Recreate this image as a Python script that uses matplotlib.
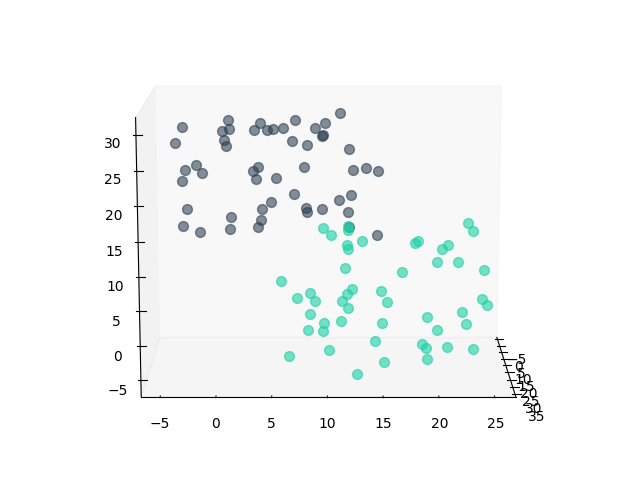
import matplotlib
matplotlib.use("Agg")
import matplotlib.pyplot as plt

# x and z, y (depth) is only a rough guess
dark_x = [11.2,7.0,0.7,9.8,3.7,8.8,3.2,4.3,4.9,5.8,0.2,0.9,-3.8,-4.0,0.3,0.4,6.7,8.1,9.6,9.5,12.0,-2.3,-3.4,-1.9,-3.5,3.0,3.5,3.2,5.2,7.8,12.4,13.6,14.8,6.9,11.1,12.2,-3.3,-3.6,-2.1,1.0,0.7,3.9,4.7,3.7,3.5,8.0,8.1,9.5,11.9,12.0,14.6]
dark_y = [6,14,10,18,8,12,16,9,13,7,11,15,5,17,10,8,14,12,6,16,9,13,11,7,15,10,12,8,14,6,16,11,9,13,7,15,10,12,8,14,6,16,11,9,13,7,15,10,12,8,14]
dark_z = [29.6,29.5,29.0,29.5,28.3,28.1,28.2,27.4,28.0,27.5,27.5,28.3,27.4,26.5,26.0,24.9,26.4,25.5,26.3,27.4,24.6,22.7,21.7,20.7,20.6,21.4,22.3,19.9,20.9,21.5,22.3,22.0,21.3,18.4,16.6,18.5,15.7,13.4,11.8,15.1,12.0,16.6,16.9,13.8,13.4,15.4,16.0,15.7,15.5,12.6,12.3]

green_x = [9.6,10.3,11.9,11.9,13.2,11.8,11.9,17.9,18.3,20.7,20.9,20.2,21.9,22.9,23.1,24.6,16.8,11.6,5.8,7.2,8.4,8.9,12.3,11.8,11.3,11.9,14.9,15.5,8.4,8.2,9.7,9.6,11.2,15.1,19.3,20.0,22.6,22.8,24.0,24.9,14.4,18.8,19.0,21.3,23.4,6.4,10.1,15.3,19.3,12.7]
green_y = [24,18,28,21,16,26,20,30,23,17,27,19,25,22,29,16,24,18,28,21,20,26,17,23,30,19,25,22,27,16,24,18,28,21,20,26,17,23,30,19,25,22,27,16,24,18,28,21,20,26]
green_z = [15.0,13.0,15.9,14.2,11.8,12.8,11.2,13.7,12.9,10.7,13.0,9.1,10.1,15.4,15.3,7.4,8.5,8.0,7.9,4.1,4.6,4.6,4.7,5.0,5.3,2.2,5.9,3.7,2.8,-1.7,0.9,-1.5,2.0,0.3,1.0,0.2,1.2,0.5,5.6,2.6,-1.6,-2.7,-2.2,-4.3,-3.0,-5.3,-2.3,-5.6,-5.4,-6.3]

fig = plt.figure()
ax = fig.add_subplot(projection='3d')
ax.set_position([0.118, 0.115, 0.775, 0.77])
ax.grid(False)
ax.view_init(elev=12, azim=-90)
ax.set_box_aspect((1.795, 1.1, 1.35), zoom=1.316)

ax.scatter(dark_x, dark_y, dark_z, s=50, c='#2c3e50', alpha=0.58, depthshade=False)
ax.scatter(green_x, green_y, green_z, s=50, c='#1bd0a5', alpha=0.6, depthshade=False)

ax.set_xlim(-6.7, 26.9)
ax.set_ylim(36.5, -6.5)
ax.set_zlim(-7.4, 32.4)
ax.set_yticks(range(-5, 40, 5))
ax.zaxis.set_ticks_position('upper')
ax.tick_params(axis='x', pad=0.5)
ax.tick_params(axis='y', pad=0)
ax.tick_params(axis='z', pad=0)
ax.xaxis.set_pane_color((.9, .9, .9, .5))
ax.yaxis.set_pane_color((.95, .95, .95, .5))

fig.savefig('out.png')
